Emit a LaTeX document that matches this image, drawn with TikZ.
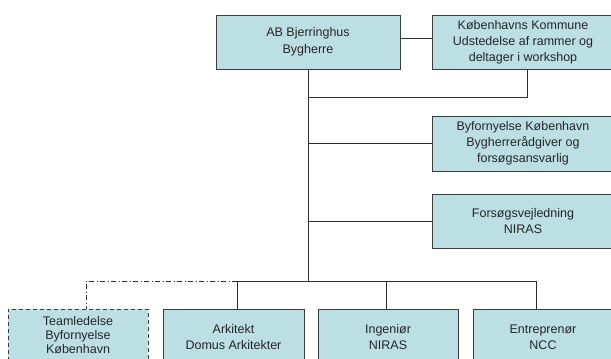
\documentclass[tikz,border=0pt]{standalone}
\usepackage{fontspec}
\setmainfont{Liberation Sans}
\definecolor{boxfill}{RGB}{187,223,227}
\definecolor{boxline}{RGB}{60,60,60}
\definecolor{conline}{RGB}{45,45,45}
\begin{document}
\begin{tikzpicture}[x=1pt,y=-1pt,
  orgbox/.style={draw=boxline, fill=boxfill, line width=1pt, rectangle, inner sep=0pt,
    align=center, font=\fontsize{12.5}{16}\selectfont, text=black!85},
  dashbox/.style={orgbox, dash pattern=on 4pt off 3pt},
  conn/.style={draw=conline, line width=1pt},
  dashconn/.style={conn, dash pattern=on 5pt off 2.5pt on 1pt off 2.5pt}]
\useasboundingbox (0,0) rectangle (611,359);
\fill[white] (0,0) rectangle (611,359);
\begin{scope}
\clip (0,0) rectangle (611,359);
% nodes
\node[orgbox, minimum width=184pt, minimum height=54pt, font=\fontsize{12.5}{17.5}\selectfont] (ab) at (308,42) {AB Bjerringhus\\Bygherre};
\node[orgbox, minimum width=182pt, minimum height=54pt] (kk) at (523,42) {Københavns Kommune\\Udstedelse af rammer og\\deltager i workshop};
\node[orgbox, minimum width=182pt, minimum height=55pt] (byf) at (523,143.5) {Byfornyelse København\\Bygherrerådgiver og\\forsøgsansvarlig};
\node[orgbox, minimum width=182pt, minimum height=54pt] (fv) at (523,221) {Forsøgsvejledning\\NIRAS};
\node[dashbox, minimum width=140pt, minimum height=57pt] (team) at (78,337.5) {};
\node[align=center, inner sep=0pt, font=\fontsize{12.5}{14}\selectfont, text=black!85] (teamtxt) at (78,335) {Teamledelse\\Byfornyelse\\København};
\node[orgbox, minimum width=141pt, minimum height=57pt] (ark) at (233.5,337.5) {Arkitekt\\Domus Arkitekter};
\node[orgbox, minimum width=140pt, minimum height=57pt] (ing) at (388,337.5) {Ingeniør\\NIRAS};
\node[orgbox, minimum width=140pt, minimum height=57pt] (ent) at (543,337.5) {Entreprenør\\NCC};
% coordinates
\coordinate (bus) at (308,281);
\coordinate (j1) at (308,97);
\coordinate (bl) at (237,281);
\coordinate (bi) at (386,281);
\coordinate (br) at (536,281);
\coordinate (td) at (86,281);
% connectors
\draw[conn] ([yshift=4pt]ab.east) -- ([yshift=4pt]kk.west);
\draw[conn] (ab.south) -- (bus);
\draw[conn] ([xshift=4pt]kk.south) |- (j1);
\draw[conn] (byf.west) -- (byf.west -| bus);
\draw[conn] (fv.west) -- (fv.west -| bus);
\draw[conn] (bl) -- (br);
\draw[conn] (bl) -- (bl |- ark.north);
\draw[conn] (bi) -- (bi |- ing.north);
\draw[conn] (br) -- (br |- ent.north);
\draw[dashconn] (bl) -- (td) -- (td |- team.north);
\end{scope}
\end{tikzpicture}
\end{document}
